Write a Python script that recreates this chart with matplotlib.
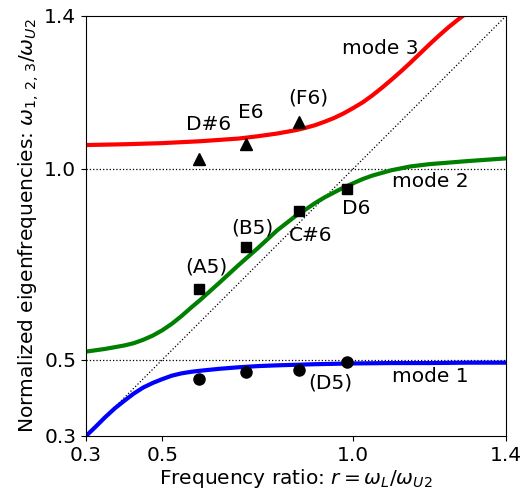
import matplotlib
matplotlib.use("Agg")
import matplotlib.pyplot as plt

# --- curve data ---
r_mode1 = [0.300, 0.325, 0.350, 0.375, 0.400, 0.425, 0.450, 0.475, 0.500, 0.525, 0.550, 0.575, 0.600,
           0.650, 0.700, 0.750, 0.800, 0.900, 1.000, 1.100, 1.200, 1.300, 1.400]
w_mode1 = [0.300, 0.324, 0.349, 0.372, 0.392, 0.411, 0.427, 0.439, 0.449, 0.458, 0.464, 0.468, 0.471,
           0.476, 0.480, 0.483, 0.485, 0.488, 0.490, 0.491, 0.491, 0.492, 0.492]

r_mode2 = [0.300, 0.350, 0.400, 0.425, 0.450, 0.475, 0.500, 0.525, 0.550, 0.575, 0.600, 0.650, 0.700,
           0.750, 0.800, 0.850, 0.875, 0.900, 0.925, 0.950, 0.975, 1.000, 1.025, 1.050, 1.075, 1.100,
           1.150, 1.200, 1.300, 1.400]
w_mode2 = [0.521, 0.528, 0.537, 0.543, 0.552, 0.563, 0.577, 0.594, 0.614, 0.636, 0.657, 0.702, 0.748,
           0.792, 0.838, 0.877, 0.893, 0.910, 0.925, 0.938, 0.951, 0.962, 0.973, 0.982, 0.989, 0.996,
           1.006, 1.012, 1.020, 1.027]

r_mode3 = [0.300, 0.400, 0.500, 0.600, 0.700, 0.750, 0.800, 0.850, 0.875, 0.900, 0.925, 0.950, 0.975,
           1.000, 1.025, 1.050, 1.075, 1.100, 1.125, 1.150, 1.175, 1.200, 1.225, 1.250, 1.275, 1.300]
w_mode3 = [1.062, 1.064, 1.067, 1.072, 1.079, 1.085, 1.092, 1.101, 1.107, 1.114, 1.123, 1.133, 1.145,
           1.159, 1.174, 1.192, 1.212, 1.233, 1.255, 1.278, 1.302, 1.326, 1.349, 1.371, 1.391, 1.410]

# --- measured points ---
r_meas = [0.597, 0.718, 0.858, 0.983]
w_circle = [0.449, 0.468, 0.473, 0.495]
w_square = [0.684, 0.794, 0.888, 0.947]
r_tri = [0.597, 0.718, 0.858]
w_tri = [1.025, 1.065, 1.122]

# note labels (text, x, y)
labels = [
    ("D#6", 0.620, 1.117), ("E6", 0.732, 1.147), ("(F6)", 0.883, 1.184),
    ("(A5)", 0.616, 0.743), ("(B5)", 0.736, 0.846), ("C#6", 0.887, 0.826),
    ("D6", 1.007, 0.896), ("(D5)", 0.939, 0.438),
    ("mode 3", 1.070, 1.315), ("mode 2", 1.201, 0.966), ("mode 1", 1.201, 0.455),
]

ticks = [0.3, 0.5, 1.0, 1.4]
fs = 14.5

fig = plt.figure(figsize=(5.2, 4.96), dpi=100)
ax = fig.add_axes([0.1654, 0.121, 0.8077, 0.8468])

ax.plot([0.3, 1.4], [0.3, 1.4], 'k:', lw=0.9)
ax.axhline(1.0, color='k', ls=':', lw=0.9)
ax.axhline(0.5, color='k', ls=':', lw=0.9)

ax.plot(r_mode1, w_mode1, color='b', lw=3)
ax.plot(r_mode2, w_mode2, color='g', lw=3)
ax.plot(r_mode3, w_mode3, color='r', lw=3)

ax.plot(r_meas, w_circle, 'ko', ms=8)
ax.plot(r_meas, w_square, 'ks', ms=7)
ax.plot(r_tri, w_tri, 'k^', ms=8)

for txt, x, y in labels:
    ax.text(x, y, txt, ha='center', va='center', fontsize=fs)

ax.set_xlim(0.3, 1.4)
ax.set_ylim(0.3, 1.4)
ax.set_xticks(ticks)
ax.set_yticks(ticks)
ax.set_xticklabels([f"{t:.1f}" for t in ticks])
ax.set_yticklabels([f"{t:.1f}" for t in ticks])
ax.tick_params(labelsize=fs)
ax.set_xlabel(r"Frequency ratio: $r = \omega_L/\omega_{U2}$", fontsize=fs, labelpad=2)
ax.set_ylabel(r"Normalized eigenfrequencies: $\omega_{1,\,2,\,3}/\omega_{U2}$", fontsize=fs, labelpad=2)

fig.savefig("out.png", dpi=100)
